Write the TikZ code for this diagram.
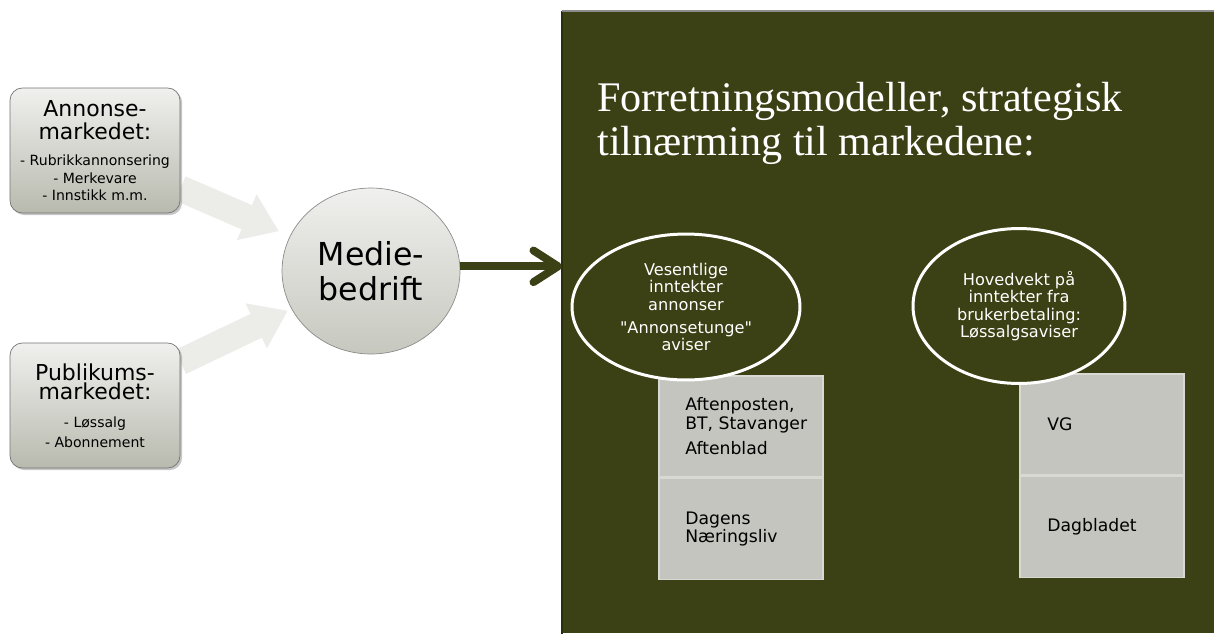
\documentclass[tikz,border=0pt]{standalone}
\usepackage{fontspec}
\setmainfont{Liberation Serif}
\setsansfont{DejaVu Sans}
\usetikzlibrary{positioning,arrows.meta,shadows,shapes.geometric,backgrounds}

\definecolor{oliven}{RGB}{59,65,20}
\definecolor{oliventkant}{RGB}{42,47,13}
\definecolor{pilgraa}{RGB}{236,236,233}
\definecolor{topp}{RGB}{240,240,238}
\definecolor{bunn}{RGB}{184,186,174}
\definecolor{kassegraa}{RGB}{196,197,190}
\definecolor{kassekant}{RGB}{216,217,211}

\newcommand{\marktittel}[1]{{\fontsize{12.5}{13.5}\selectfont #1}}

\begin{document}
\begin{tikzpicture}[x=0.02cm, y=-0.02cm, font=\sffamily, inner sep=0pt,
  marked/.style={draw=black!55, rounded corners=7pt, top color=topp, bottom color=bunn,
    minimum width=3.4cm, minimum height=2.5cm, align=center,
    font=\sffamily\fontsize{8}{10}\selectfont,
    drop shadow={shadow xshift=1.2pt, shadow yshift=-1.2pt, opacity=.45}},
  bedrift/.style={ellipse, draw=black!45, top color=topp, bottom color=bunn!80!white,
    minimum width=3.56cm, minimum height=3.32cm, align=center,
    font=\sffamily\fontsize{18}{20}\selectfont},
  modell/.style={ellipse, draw=white, line width=1.7pt, fill=oliven, text=white,
    align=center, font=\sffamily\fontsize{9.2}{10}\selectfont},
  avis/.style={draw=kassekant, line width=0.9pt, fill=kassegraa,
    minimum width=3.28cm, minimum height=2.02cm, anchor=north west},
  avistekst/.style={anchor=west, align=left, font=\sffamily\fontsize{9.8}{10.4}\selectfont},
  inn/.style={pilgraa, line width=15pt, -{Triangle[length=20pt, width=27pt]}},
  ut/.style={oliven, line width=4.5pt, -{Straight Barb[length=14pt, width=18pt, line cap=round, line join=round]}}
]
\useasboundingbox (0,0) rectangle (1214,633);

% markedene
\node[marked] (annonse) at (95,150.5) {\marktittel{Annonse-}\\[3pt]\marktittel{markedet:}\\[5pt]
  - Rubrikkannonsering\\- Merkevare\\- Innstikk m.m.};
\node[marked] (publikum) at (95,405.5) {\marktittel{Publikums-}\\[1pt]\marktittel{markedet:}\\[6pt]
  - Løssalg\\[1pt]- Abonnement};

\node[bedrift] (medie) at (371,271) {Medie-\\bedrift};

\begin{scope}[on background layer]
  \draw[inn, shorten >=0.24cm] (annonse.-24) -- (medie);
  \draw[inn, shorten >=0.08cm] (publikum.27) -- (medie);
\end{scope}

% forretningsmodeller
\node[fill=oliven, minimum width=13.04cm, minimum height=12.44cm, anchor=north west] (panel) at (562,11) {};
\draw[oliventkant, line width=1.2pt] (panel.north west) -- (panel.south west);
\draw[black!45, line width=0.6pt] (panel.north west) -- (panel.north east);

\node[anchor=north west, text=white, align=left, font=\rmfamily\fontsize{24}{25}\selectfont] (tittel)
  at (597,82) {Forretningsmodeller, strategisk\\tilnærming til markedene:};

\coordinate (pilmaal) at (panel.west |- medie.3);
\draw[ut] (medie.3) -- (pilmaal);

\node[avis] (aTopp) at (658,375) {};
\node[avis, below=0pt of aTopp.south west, anchor=north west] (aBunn) {};
\node[avis] (bTopp) at (1019,373) {};
\node[avis, below=0pt of bTopp.south west, anchor=north west] (bBunn) {};

\node[avistekst, right=0.54cm of aTopp.west] (aTekst1) {Aftenposten,\\BT, Stavanger\\[4pt]Aftenblad};
\node[avistekst, right=0.54cm of aBunn.west] (aTekst2) {Dagens\\Næringsliv};
\node[avistekst, right=0.56cm of bTopp.west] (bTekst1) {VG};
\node[avistekst, right=0.56cm of bBunn.west] (bTekst2) {Dagbladet};

\node[modell, minimum width=4.56cm, minimum height=2.92cm] (annonsemodell) at (686,307)
  {Vesentlige\\inntekter\\annonser\\[3pt]\textquotedbl Annonsetunge\textquotedbl\\aviser};
\node[modell, minimum width=4.24cm, minimum height=3.1cm] (brukermodell) at (1019,306)
  {Hovedvekt på\\inntekter fra\\brukerbetaling:\\Løssalgsaviser};
\end{tikzpicture}
\end{document}
